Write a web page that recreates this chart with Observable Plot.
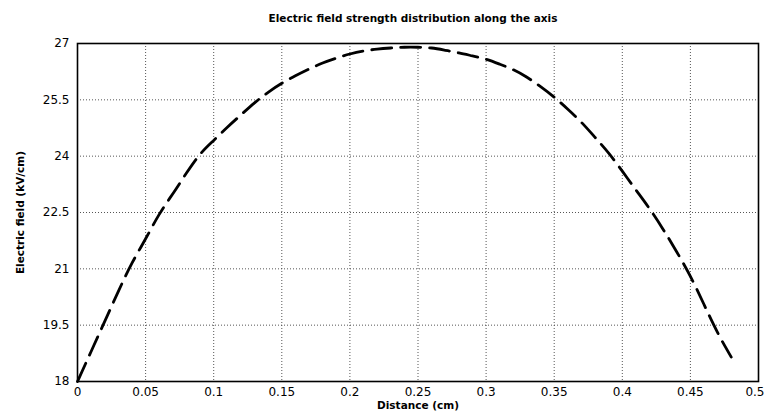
<!DOCTYPE html>
<html>
<head>
<meta charset="utf-8">
<script src="https://cdn.jsdelivr.net/npm/d3@7"></script>
<script src="https://cdn.jsdelivr.net/npm/@observablehq/plot@0.6"></script>
<style>
  html, body { margin: 0; padding: 0; background: #fff; }
</style>
</head>
<body>
<div id="chart"></div>
<script>
const titleText = "Electric field strength distribution along the axis";
const xLabel = "Distance (cm)";
const yLabel = "Electric field (kV/cm)";
const xTicks = [0, 0.05, 0.1, 0.15, 0.2, 0.25, 0.3, 0.35, 0.4, 0.45, 0.5];
const yTicks = [18, 19.5, 21, 22.5, 24, 25.5, 27];
const distance = [0, 0.01, 0.02, 0.03, 0.04, 0.05, 0.06, 0.07, 0.08, 0.09, 0.10, 0.11, 0.12, 0.13, 0.14, 0.15, 0.16, 0.17, 0.18, 0.19, 0.20, 0.21, 0.22, 0.23, 0.24, 0.25, 0.26, 0.27, 0.28, 0.29, 0.30, 0.31, 0.32, 0.33, 0.34, 0.35, 0.36, 0.37, 0.38, 0.39, 0.40, 0.41, 0.42, 0.43, 0.44, 0.45, 0.46, 0.47, 0.48];
const field = [18.0, 18.8, 19.6, 20.4, 21.15, 21.8, 22.45, 23.0, 23.55, 24.05, 24.42, 24.77, 25.1, 25.42, 25.7, 25.94, 26.14, 26.32, 26.48, 26.61, 26.72, 26.8, 26.85, 26.88, 26.9, 26.9, 26.88, 26.82, 26.75, 26.67, 26.58, 26.45, 26.3, 26.1, 25.85, 25.57, 25.25, 24.9, 24.5, 24.08, 23.6, 23.1, 22.6, 22.05, 21.45, 20.8, 20.05, 19.3, 18.65];

const data = distance.map((d, i) => ({x: d, y: field[i]}));
const font = "'DejaVu Sans', Verdana, sans-serif";
const xTicksInner = xTicks.slice(0, -1);
const xTickLast = xTicks.slice(-1);

const chart = Plot.plot({
  width: 765,
  height: 417,
  marginTop: 43,
  marginBottom: 36,
  marginLeft: 77,
  marginRight: 7,
  style: {fontFamily: font, fontSize: "12px", color: "#000", background: "#fff"},
  x: {domain: [0, 0.5], ticks: xTicks},
  y: {domain: [18, 27], ticks: yTicks},
  marks: [
    Plot.gridX(xTicks, {stroke: "#444", strokeOpacity: 0.9, strokeDasharray: "1,2", strokeWidth: 1}),
    Plot.gridY(yTicks, {stroke: "#444", strokeOpacity: 0.9, strokeDasharray: "1,2", strokeWidth: 1}),
    Plot.frame({stroke: "#000", strokeWidth: 1.6}),
    Plot.axisX(xTicksInner, {tickSize: 0, tickPadding: 6, label: null, tickFormat: d => String(d), fontSize: 12}),
    Plot.axisX(xTickLast, {tickSize: 0, tickPadding: 6, label: null, tickFormat: d => String(d), fontSize: 12, textAnchor: "end", dx: 6}),
    Plot.axisY(yTicks, {tickSize: 0, tickPadding: 8, label: null, tickFormat: d => String(d), fontSize: 12}),
    Plot.line(data, {x: "x", y: "y", stroke: "#000", strokeWidth: 2.8, strokeDasharray: "20,9", curve: "natural"}),
    Plot.text([titleText], {frameAnchor: "top", dx: -5, dy: -29, text: d => d, fontSize: 10.5, fontWeight: "bold", fill: "#000"}),
    Plot.text([xLabel], {frameAnchor: "bottom", dy: 27, text: d => d, fontSize: 10.5, fontWeight: "bold", fill: "#000"}),
    Plot.text([yLabel], {frameAnchor: "left", dx: -57, rotate: -90, textAnchor: "middle", text: d => d, fontSize: 10.5, fontWeight: "bold", fill: "#000"})
  ]
});
document.getElementById("chart").appendChild(chart);
</script>
</body>
</html>
